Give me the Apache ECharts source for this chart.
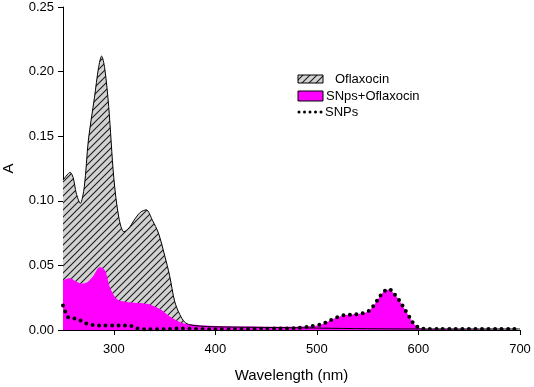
<!DOCTYPE html>
<html>
<head>
<meta charset="utf-8">
<script src="https://cdn.jsdelivr.net/npm/echarts@6/dist/echarts.min.js"></script>
<style>
html,body{margin:0;padding:0;background:#fff;}
#chart{width:534px;height:387px;}
</style>
</head>
<body>
<div id="chart"></div>
<script>
// Oflaxocin
var oflaxWl=[250,254,257,260,263,267,271,275,281,285,288,291,295,300,305,310,315,320,326,332,338,344,350,355,360,365,370,375,385,400,450,500,550,600,650,700];
var oflaxA=[0.116,0.120,0.122,0.118,0.106,0.098,0.111,0.147,0.180,0.203,0.212,0.203,0.173,0.118,0.087,0.076,0.079,0.085,0.091,0.093,0.085,0.075,0.058,0.042,0.022,0.012,0.006,0.004,0.003,0.0025,0.002,0.0015,0.001,0.0008,0.0008,0.0008];
// SNps+Oflaxocin
var mixWl=[250,257,262,268,274,280,286,289,292,296,301,305,310,320,329,335,341,346,351,356,361,369,380,400,450,480,495,505,512,520,527,535,542,550,555,560,565,571,576,581,586,591,595,600,605,620,700];
var mixA=[0.0386,0.040,0.038,0.036,0.037,0.042,0.0485,0.048,0.045,0.0335,0.0258,0.023,0.022,0.021,0.0206,0.020,0.018,0.016,0.013,0.010,0.0077,0.005,0.004,0.003,0.0025,0.0025,0.003,0.0045,0.007,0.0098,0.0115,0.012,0.0125,0.0142,0.018,0.0237,0.029,0.0314,0.028,0.023,0.0167,0.0103,0.0052,0.002,0.001,0.0008,0.0008];
// SNPs
var snpWl=[250,252,255,260,265,270,276,283,290,300,310,316,322,330,350,362,400,450,480,495,505,512,520,527,535,542,550,555,560,565,571,576,581,586,591,595,600,605,620,700];
var snpA=[0.019,0.0147,0.0098,0.009,0.0085,0.006,0.0044,0.0036,0.0035,0.0034,0.0034,0.0033,0.0015,0.0005,0.0005,0.0012,0.0005,0.001,0.0015,0.003,0.0045,0.007,0.0098,0.0115,0.012,0.0125,0.0142,0.018,0.0237,0.029,0.0318,0.028,0.023,0.0167,0.0103,0.0052,0.002,0.001,0.0008,0.0008];
var xTicks=[300,400,500,600,700];

function pairs(xs,ys){
	var out=[];
	for(var i=0;i<xs.length;i++){out.push([xs[i],ys[i]]);}
	return out;
}

// hatch pattern
var hatch=document.createElement('canvas');
hatch.width=7;hatch.height=7;
var hc=hatch.getContext('2d');
hc.fillStyle='#d2d2d2';hc.fillRect(0,0,7,7);
hc.strokeStyle='#1e1e1e';hc.lineWidth=1.1;
hc.beginPath();
hc.moveTo(-1,8);hc.lineTo(8,-1);
hc.moveTo(-1,1);hc.lineTo(1,-1);
hc.moveTo(6,8);hc.lineTo(8,6);
hc.stroke();
var hatchFill={image:hatch,repeat:'repeat'};

var font='Liberation Sans, Arial, sans-serif';

var option={
	animation:false,
	grid:{left:63,right:14,top:7,bottom:57,outerBoundsMode:'none',containLabel:false},
	xAxis:{
		type:'value',min:250,max:700,interval:50,
		name:'Wavelength (nm)',nameLocation:'middle',nameGap:38,
		nameTextStyle:{fontFamily:font,fontSize:15,color:'#000'},
		axisLine:{show:true,lineStyle:{color:'#000',width:1}},
		axisTick:{show:true,length:5,lineStyle:{color:'#000'},customValues:xTicks},
		axisLabel:{fontFamily:font,fontSize:13,color:'#000',margin:13,customValues:xTicks},
		splitLine:{show:false}
	},
	yAxis:{
		type:'value',min:0,max:0.25,interval:0.05,
		name:'A',nameLocation:'middle',nameGap:47,nameRotate:90,
		nameTextStyle:{fontFamily:font,fontSize:15,color:'#000'},
		axisLine:{show:true,lineStyle:{color:'#000',width:1}},
		axisTick:{show:true,length:5,lineStyle:{color:'#000'}},
		axisLabel:{fontFamily:font,fontSize:13,color:'#000',margin:9,formatter:function(v){return v.toFixed(2);}},
		splitLine:{show:false}
	},
	series:[
		{
			name:'Oflaxocin',type:'line',data:pairs(oflaxWl,oflaxA),
			smooth:0.3,showSymbol:false,
			lineStyle:{color:'#000',width:1},
			areaStyle:{color:hatchFill,opacity:1}
		},
		{
			name:'SNps+Oflaxocin',type:'line',data:pairs(mixWl,mixA),
			smooth:0.3,showSymbol:false,
			lineStyle:{width:0,color:'#ff00ff'},
			areaStyle:{color:'#ff00ff',opacity:1}
		},
		{
			name:'SNPs',type:'line',data:pairs(snpWl,snpA),
			smooth:0.3,showSymbol:false,
			lineStyle:{color:'#000',width:4,type:[0,6.5],cap:'round'}
		}
	],
	graphic:[
		{type:'rect',shape:{x:298,y:75,width:25,height:8},style:{fill:hatchFill,stroke:'#000',lineWidth:1}},
		{type:'text',x:335,y:79,style:{text:'Oflaxocin',fontFamily:font,fontSize:13,fill:'#000',verticalAlign:'middle'}},
		{type:'rect',shape:{x:298,y:91,width:25,height:10},style:{fill:'#ff00ff',stroke:'#000',lineWidth:1}},
		{type:'text',x:326,y:96,style:{text:'SNps+Oflaxocin',fontFamily:font,fontSize:13,fill:'#000',verticalAlign:'middle'}},
		{type:'line',shape:{x1:299,y1:112,x2:322,y2:112},style:{stroke:'#000',lineWidth:3,lineDash:[0,5.5],lineCap:'round'}},
		{type:'text',x:325,y:112,style:{text:'SNPs',fontFamily:font,fontSize:13,fill:'#000',verticalAlign:'middle'}}
	]
};

var mychart=echarts.init(document.getElementById('chart'));
mychart.setOption(option);
</script>
</body>
</html>
